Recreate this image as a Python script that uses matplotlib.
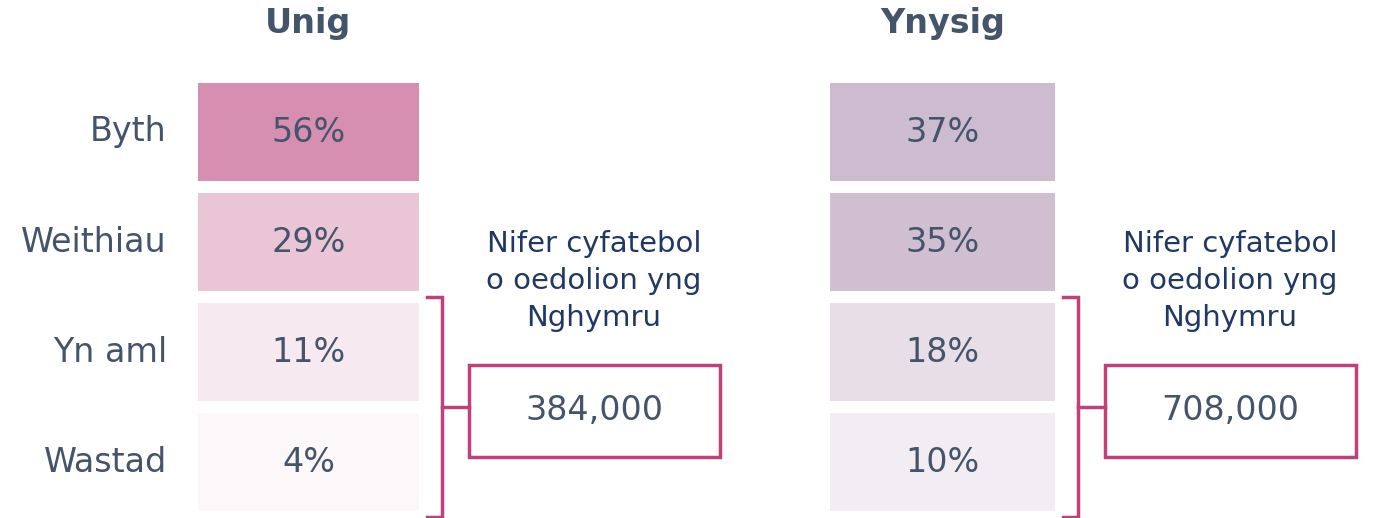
import matplotlib
matplotlib.use('Agg')
import matplotlib.pyplot as plt
from matplotlib.patches import Rectangle
from matplotlib.colors import LinearSegmentedColormap, Normalize

# data
categories = ["Byth", "Weithiau", "Yn aml", "Wastad"]
panel_titles = ["Unig", "Ynysig"]
unig_vals = [56, 29, 11, 4]
ynysig_vals = [37, 35, 18, 10]
counts = ["384,000", "708,000"]
box_caption = "Nifer cyfatebol\no oedolion yng\nNghymru"

txt = "#44546A"
edge = "#C0407A"
plt.rcParams['font.family'] = ['DejaVu Sans']

fig = plt.figure(figsize=(13.75, 5.18), dpi=100)
ax = fig.add_axes([0, 0, 1, 1])
ax.set_xlim(0, 1375)
ax.set_ylim(518, 0)
ax.axis('off')

# values, left edge, width, darkest colour, value of darkest colour
panels = [
    (unig_vals, 198, 221, "#D68FB0", 56),
    (ynysig_vals, 830, 225, "#CDBBCF", 37),
]
cell_h, row0, step = 98, 83, 110

for p, (vals, x0, cell_w, top_col, vmax) in enumerate(panels):
    cmap = LinearSegmentedColormap.from_list("c%d" % p, ["#FFFFFF", top_col])
    norm = Normalize(0, vmax)
    for i, v in enumerate(vals):
        y = row0 + i * step
        ax.add_patch(Rectangle((x0, y), cell_w, cell_h, facecolor=cmap(norm(v)), edgecolor='none'))
        ax.text(x0 + cell_w / 2, y + cell_h / 2, "%d%%" % v, ha='center', va='center',
                fontsize=24, color=txt)
        if p == 0:
            ax.text(167, y + cell_h / 2, categories[i], ha='right', va='center',
                    fontsize=24, color=txt)
    ax.text(x0 + cell_w / 2, 24, panel_titles[p], ha='center', va='center',
            fontsize=24, color=txt, fontweight='bold')

    # bracket around the last two rows
    bx = x0 + cell_w + 23
    ytop = row0 + 2 * step - 6
    ybot = row0 + 3 * step + cell_h + 6
    ymid = (ytop + ybot) / 2
    ax.plot([bx - 15, bx, bx, bx - 15], [ytop, ytop, ybot, ybot], color=edge, lw=2.5,
            solid_joinstyle='miter')
    ax.plot([bx, bx + 27], [ymid, ymid], color=edge, lw=2.5)
    bx0 = bx + 27
    ax.add_patch(Rectangle((bx0, 365), 251, 92, facecolor='white', edgecolor=edge, lw=2.5))
    ax.text(bx0 + 125, 411, counts[p], ha='center', va='center', fontsize=24, color=txt)
    ax.text(bx0 + 125, 281, box_caption, ha='center', va='center', fontsize=21,
            color="#1F3864", linespacing=1.4)

fig.savefig("out.png", dpi=100)
